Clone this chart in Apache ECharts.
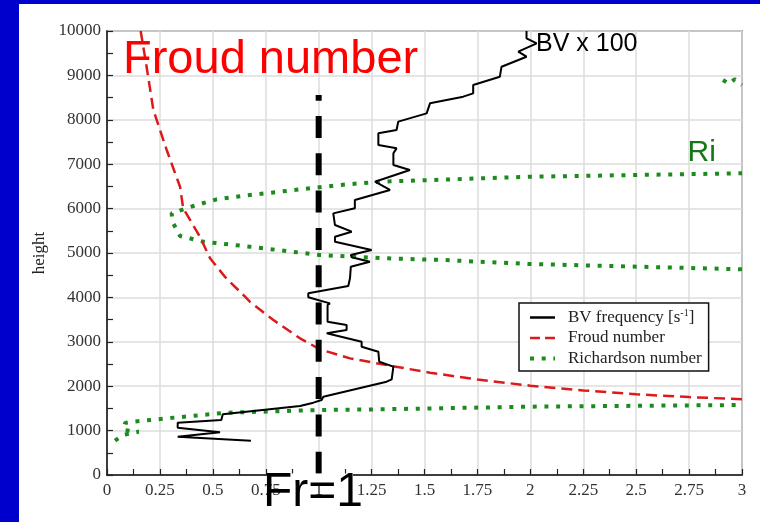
<!DOCTYPE html>
<html><head><meta charset="utf-8">
<script src="https://cdn.jsdelivr.net/npm/echarts@6/dist/echarts.min.js"></script>
<style>
html,body{margin:0;padding:0;background:#0000cc;width:760px;height:522px;overflow:hidden}
#c{position:absolute;left:19px;top:4px;width:741px;height:518px;background:#fff}
</style></head><body><div id="c"></div>
<script>
// Brunt-Vaisala frequency x 100 : [value, height]
const bvProfile = [[0.68,773],[0.334,863],[0.534,962],[0.334,1066],[0.334,1178],[0.54,1239],[0.547,1366],
  [0.912,1554],[0.975,1629],[1.014,1689],[1.022,1764],[1.321,2102],[1.345,2155],[1.353,2440],[1.286,2552],
  [1.282,2777],[1.203,2890],[1.203,3003],[1.038,3191],[1.132,3266],[1.132,3378],[1.042,3453],[1.042,3829],
  [1.053,3866],[0.951,4002],[0.951,4092],[1.14,4257],[1.148,4430],[1.152,4692],[1.242,4804],[1.156,4903],
  [1.152,4955],[1.25,5068],[1.077,5255],[1.077,5367],[1.156,5480],[1.077,5630],[1.069,5893],[1.171,6006],
  [1.171,6194],[1.337,6420],[1.266,6606],[1.431,6869],[1.353,6982],[1.353,7245],[1.368,7357],[1.282,7432],
  [1.282,7695],[1.368,7770],[1.376,7958],[1.51,8145],[1.526,8371],[1.683,8521],[1.73,8596],[1.73,8784],
  [1.856,8971],[1.864,9196],[1.982,9421],[1.943,9534],[2.03,9722],[1.982,9835],[1.982,10000]];
// Froude number
const froudProfile = [[3.0,1705],[2.75,1755],[2.5,1817],[2.25,1905],[2.0,2012],[1.75,2150],[1.526,2305],
  [1.337,2462],[1.148,2627],[1.006,2830],[0.912,3078],[0.786,3491],[0.675,3903],[0.652,4016],[0.56,4450],
  [0.487,4880],[0.439,5367],[0.36,6006],[0.345,6493],[0.282,7320],[0.219,8221],[0.187,9196],[0.159,10000]];
// Richardson number (three visible pieces; values beyond 3 leave the frame)
const riLow = [[0.038,773],[0.075,900],[0.15,975],[0.08,1010],[0.085,1170],[0.124,1200],[0.282,1276],
  [0.565,1403],[1.006,1464],[1.29,1479],[2.0,1539],[3.0,1577]];
const riMid = [[3.0,4633],[2.0,4752],[1.589,4842],[1.321,4880],[1.006,4955],[0.675,5142],[0.455,5255],
  [0.345,5383],[0.313,5669],[0.305,5894],[0.408,6059],[0.518,6209],[0.675,6306],[1.1,6532],[1.29,6606],
  [2.0,6718],[3.0,6795]];
const riTop = [[2.91,8896],[2.94,8806],[2.965,8915],[3.0,8784]];
// Fr = 1 reference line
const frOneLine = [[1,8559],[1,0]];

const serif = 'Liberation Serif';
const green = '#1c8a1c';
const red = '#dd1a1a';
const chart = echarts.init(document.getElementById('c'), null, {renderer:'canvas'});
chart.setOption({
  animation:false,
  grid:{left:88, top:27, right:18, bottom:47, show:true, borderColor:'#555', borderWidth:1.5, backgroundColor:'#fff'},
  xAxis:{type:'value', min:0, max:3, interval:0.25,
    axisLine:{lineStyle:{color:'#111', width:1.5}},
    axisTick:{show:true, inside:true, length:6, lineStyle:{color:'#222', width:1.2}},
    minorTick:{show:true, splitNumber:2, length:6, lineStyle:{color:'#222', width:1.2}},
    splitLine:{show:true, lineStyle:{color:'#dcdcdc', width:1.5}},
    axisLabel:{fontFamily:serif, fontSize:17, color:'#333', margin:7, formatter:v=>String(v)}},
  yAxis:{type:'value', min:0, max:10000, interval:1000, name:'height', nameLocation:'middle', nameGap:54,
    nameTextStyle:{fontFamily:serif, fontSize:17, color:'#222'},
    axisLine:{lineStyle:{color:'#111', width:1.5}},
    axisTick:{show:true, inside:true, length:6, lineStyle:{color:'#222', width:1.2}},
    minorTick:{show:true, splitNumber:2, length:6, lineStyle:{color:'#222', width:1.2}},
    splitLine:{show:true, lineStyle:{color:'#dcdcdc', width:1.5}},
    axisLabel:{fontFamily:serif, fontSize:17, color:'#333', margin:6, formatter:v=>String(v)}},
  legend:{orient:'vertical', left:500, top:299, padding:[5,7,4,9], itemWidth:25, itemHeight:14, itemGap:3.5,
    borderColor:'#111', borderWidth:1.5, backgroundColor:'#fff', borderRadius:0,
    itemStyle:{opacity:0},
    data:[
      {name:'BV frequency', lineStyle:{color:'#000', width:2.5, type:'solid'}},
      {name:'Froud number', lineStyle:{color:red, width:2.5, type:[10,5]}},
      {name:'Richardson number', lineStyle:{color:green, width:4, type:[4,7.7], cap:'butt'}}
    ],
    formatter:n=> n==='BV frequency' ? 'BV frequency [s{sup|-1}]' : n,
    textStyle:{fontFamily:serif, fontSize:17, color:'#222', padding:[0,0,0,8],
      rich:{sup:{fontFamily:serif, fontSize:10, color:'#222', padding:[0,0,9,0]}}}},
  series:[
    {name:'Richardson number', type:'line', data:riLow, symbol:'none', clip:true, z:2,
      lineStyle:{color:green, width:4, type:[4,7.7], cap:'butt'}, itemStyle:{color:green}},
    {name:'Richardson number', type:'line', data:riMid, symbol:'none', clip:true, z:2,
      lineStyle:{color:green, width:4, type:[4,7.7], cap:'butt'}, itemStyle:{color:green}},
    {name:'Richardson number', type:'line', data:riTop, symbol:'none', clip:true, z:2,
      lineStyle:{color:green, width:4, type:[4,7.7], cap:'butt'}, itemStyle:{color:green}},
    {name:'Froud number', type:'line', data:froudProfile, symbol:'none', clip:true, z:3,
      lineStyle:{color:red, width:2.5, type:[11,6]}, itemStyle:{color:red}},
    {name:'BV frequency', type:'line', data:bvProfile, symbol:'none', clip:true, z:4,
      lineStyle:{color:'#000', width:2}, itemStyle:{color:'#000'}},
    {name:'Fr1', type:'line', data:frOneLine, symbol:'none', clip:true, z:5, silent:true,
      lineStyle:{color:'#000', width:6, type:[22,15.3], dashOffset:16.3, cap:'butt'}}
  ],
  graphic:[
    {type:'rect', z:100, shape:{x:248, y:469.6, width:86, height:3.2}, style:{fill:'#fff'}},
    {type:'text', z:100, x:104, y:56, style:{text:'Froud number', font:'47px "Liberation Sans"', fill:'#ff0000', verticalAlign:'middle'}},
    {type:'text', z:100, x:517, y:40, style:{text:'BV x 100', font:'25px "Liberation Sans"', fill:'#000', verticalAlign:'middle'}},
    {type:'text', z:100, x:668.6, y:148.5, style:{text:'Ri', font:'30px "Liberation Sans"', fill:'#137a13', verticalAlign:'middle'}},
    {type:'text', z:100, x:244, y:489, style:{text:'Fr=1', font:'48px "Liberation Sans"', fill:'#000', verticalAlign:'middle'}}
  ]
});
</script></body></html>
